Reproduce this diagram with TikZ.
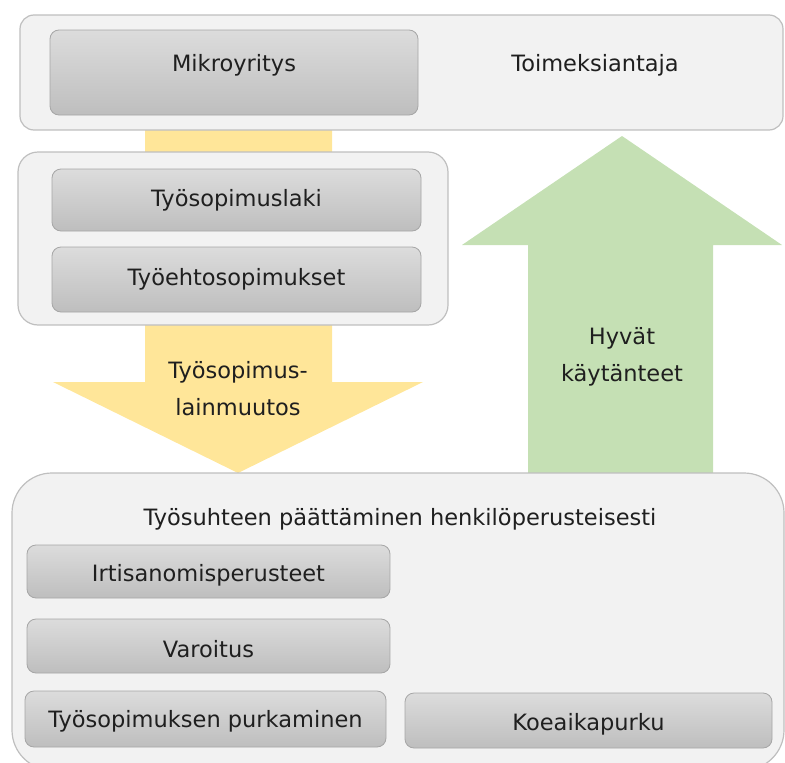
\documentclass[tikz,border=0pt]{standalone}
\usepackage{fontspec}
\setmainfont{DejaVu Sans}
\usetikzlibrary{shapes.geometric}
\definecolor{contfill}{HTML}{F2F2F2}
\definecolor{contdraw}{HTML}{BFBFBF}
\definecolor{boxtop}{HTML}{DCDCDC}
\definecolor{boxbot}{HTML}{BEBEBE}
\definecolor{boxdraw}{HTML}{A6A6A6}
\definecolor{yarrow}{HTML}{FFE699}
\definecolor{garrow}{HTML}{C5E0B4}
\definecolor{txt}{HTML}{1F1F1F}
\begin{document}
\begin{tikzpicture}[x=1pt,y=-1pt,
  every node/.style={font=\fontsize{22.5}{37}\selectfont, text=txt, inner sep=0pt},
  container/.style={rectangle, draw=contdraw, line width=1.2pt, fill=contfill},
  itembox/.style={rectangle, rounded corners=9pt, draw=boxdraw, line width=0.8pt,
    top color=boxtop, bottom color=boxbot},
  label/.style={align=center}
]
\useasboundingbox (0,0) rectangle (785,763);
\clip (0,0) rectangle (785,763);
% arrows
\fill[yarrow] (145,125) -- (332,125) -- (332,382) -- (423,382) -- (238,473) -- (53,382) -- (145,382) -- cycle;
\fill[garrow] (528,490) -- (713,490) -- (713,245) -- (782,245) -- (622,136) -- (462,245) -- (528,245) -- cycle;
% containers
\node[container, rounded corners=14pt, minimum width=763pt, minimum height=115pt] (top) at (401.5,72.5) {};
\node[container, rounded corners=20pt, minimum width=430pt, minimum height=173pt] (mid) at (233,238.5) {};
\node[container, rounded corners=40pt, minimum width=772pt, minimum height=297pt] (bot) at (398,621.5) {};
% top items
\node[itembox, minimum width=368pt, minimum height=85pt] (mikro) at (234,72.5) {};
\node (mikrotext) at (234,65) {Mikroyritys};
\node (toim) at (595,65) {Toimeksiantaja};
% middle items
\node[itembox, minimum width=369pt, minimum height=62pt] (tsl) at (236.5,200) {Työsopimuslaki};
\node[itembox, minimum width=369pt, minimum height=65pt] (tes) at (236.5,279.5) {Työehtosopimukset};
% arrow labels
\node[label] (muutos) at (238,389) {Työsopimus-\\lainmuutos};
\node[label] (hyvat) at (622,357) {Hyvät\\käytänteet};
% bottom items
\node (title) at (400,519) {Työsuhteen päättäminen henkilöperusteisesti};
\node[itembox, minimum width=363pt, minimum height=53pt] (irti) at (208.5,571.5) {};
\node (irtitext) at (208.5,575) {Irtisanomisperusteet};
\node[itembox, minimum width=363pt, minimum height=54pt] (varo) at (208.5,646) {};
\node (varotext) at (208.5,649) {Varoitus};
\node[itembox, minimum width=361pt, minimum height=56pt] (purk) at (205.5,719) {};
\node (purktext) at (205.5,721) {Työsopimuksen purkaminen};
\node[itembox, minimum width=367pt, minimum height=55pt] (koe) at (588.5,720.5) {};
\node (koetext) at (588.5,724) {Koeaikapurku};
\end{tikzpicture}
\end{document}
